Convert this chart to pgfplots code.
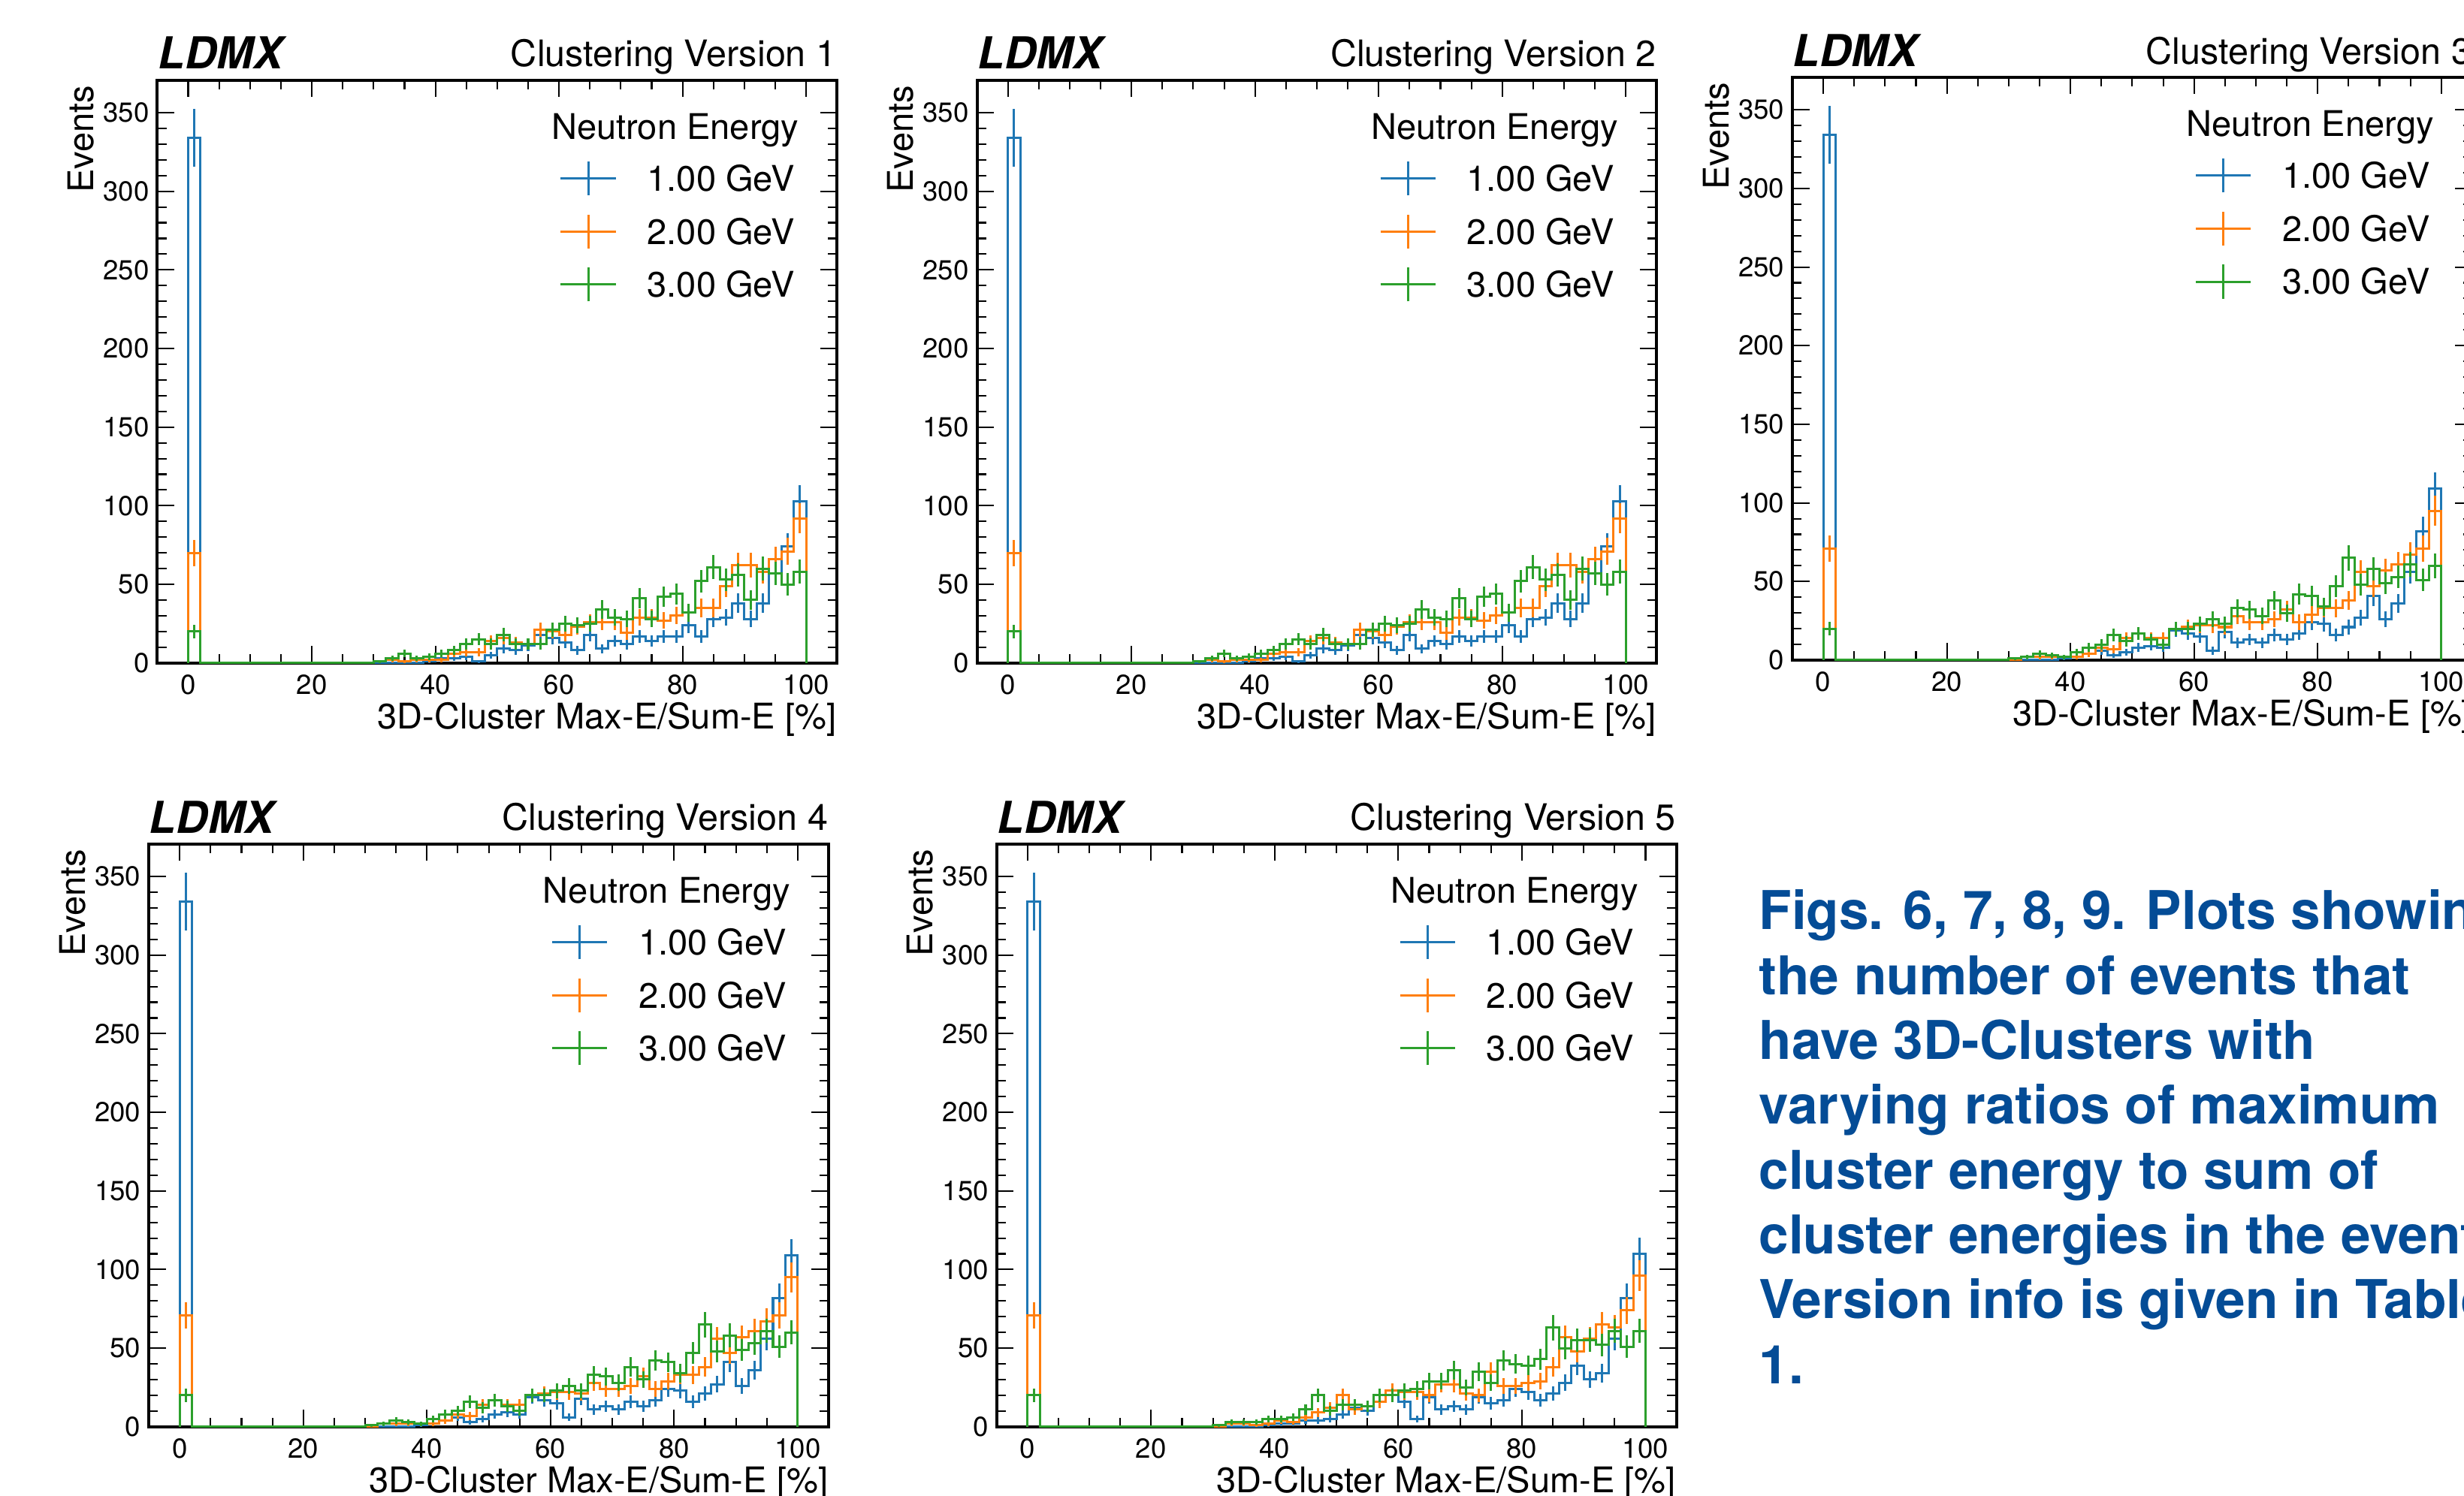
\documentclass[border=0pt]{standalone}
\usepackage{fontspec}
\setmainfont{TeX Gyre Heros}
\usepackage{pgfplots}
\pgfplotsset{compat=1.18}
\usepackage{pgfplotstable}
\definecolor{tabblue}{HTML}{1F77B4}
\definecolor{taborange}{HTML}{FF7F0E}
\definecolor{tabgreen}{HTML}{2CA02C}
\definecolor{capblue}{RGB}{4,76,150}
\newcommand\labfont{\fontsize{11.25}{13.5}\selectfont}
\newcommand\titfont{\fontsize{11.6}{13.9}\selectfont}
\newcommand\tickfont{\fontsize{8.75}{10}\selectfont}

% columns: x = left bin edge, xc = bin centre, a = 1 GeV, b = 2 GeV, c = 3 GeV
% first row and last two rows close the step outline
\pgfplotstableread{
x xc a b c
0 0 0 0 0
0 1 334 70 20
2 3 0 0 0
4 5 0 0 0
6 7 0 0 0
8 9 0 0 0
10 11 0 0 0
12 13 0 0 0
14 15 0 0 0
16 17 0 0 0
18 19 0 0 0
20 21 0 0 0
22 23 0 0 0
24 25 0 0 0
26 27 0 0 0
28 29 0 0 0
30 31 0 1 1
32 33 0 2 3
34 35 0 1 6
36 37 0 2 3
38 39 1 2 4
40 41 3 2 6
42 43 3 6 8
44 45 4 7 12
46 47 1 7 15
48 49 5 14 12
50 51 9 16 18
52 53 8 13 12
54 55 11 12 12
56 57 18 21 12
58 59 16 20 21
60 61 13 18 25
62 63 8 23 24
64 65 18 26 25
66 67 9 26 34
68 69 14 26 29
70 71 12 19 28
72 73 17 29 41
74 75 14 29 28
76 77 17 27 42
78 79 17 30 44
80 81 24 32 32
82 83 17 35 52
84 85 28 35 61
86 87 29 49 53
88 89 38 62 56
90 91 28 62 40
92 93 38 58 60
94 95 57 66 57
96 97 74 71 50
98 99 103 92 58
100 100 103 92 58
100 100 0 0 0
}\tA

\pgfplotstableread{
x xc a b c
0 0 0 0 0
0 1 334 71 20
2 3 0 0 0
4 5 0 0 0
6 7 0 0 0
8 9 0 0 0
10 11 0 0 0
12 13 0 0 0
14 15 0 0 0
16 17 0 0 0
18 19 0 0 0
20 21 0 0 0
22 23 0 0 0
24 25 0 0 0
26 27 0 0 0
28 29 0 0 0
30 31 0 0 1
32 33 0 2 2
34 35 0 2 4
36 37 0 2 3
38 39 1 2 2
40 41 2 2 5
42 43 4 4 8
44 45 6 8 10
46 47 3 7 16
48 49 5 14 12
50 51 8 17 17
52 53 9 14 13
54 55 8 14 10
56 57 19 20 20
58 59 17 21 20
60 61 15 22 23
62 63 6 22 26
64 65 18 21 23
66 67 11 28 33
68 69 13 24 32
70 71 11 24 28
72 73 16 26 38
74 75 13 32 30
76 77 17 24 42
78 79 24 29 41
80 81 23 33 34
82 83 16 33 47
84 85 21 38 65
86 87 27 56 48
88 89 41 47 58
90 91 26 57 49
92 93 36 61 53
94 95 56 67 61
96 97 82 71 51
98 99 109 95 60
100 100 109 95 60
100 100 0 0 0
}\tC

\pgfplotstableread{
x xc a b c
0 0 0 0 0
0 1 334 71 20
2 3 0 0 0
4 5 0 0 0
6 7 0 0 0
8 9 0 0 0
10 11 0 0 0
12 13 0 0 0
14 15 0 0 0
16 17 0 0 0
18 19 0 0 0
20 21 0 0 0
22 23 0 0 0
24 25 0 0 0
26 27 0 0 0
28 29 0 0 0
30 31 0 0 1
32 33 0 2 3
34 35 0 2 3
36 37 0 1 3
38 39 1 2 5
40 41 2 4 5
42 43 2 3 6
44 45 4 6 11
46 47 4 9 20
48 49 5 12 10
50 51 8 20 14
52 53 12 11 14
54 55 10 13 13
56 57 16 16 20
58 59 20 23 20
60 61 16 22 23
62 63 5 22 24
64 65 19 20 29
66 67 11 27 29
68 69 13 27 36
70 71 11 21 25
72 73 19 20 35
74 75 15 35 28
76 77 17 26 42
78 79 24 26 40
80 81 22 28 39
82 83 17 29 43
84 85 21 38 63
86 87 28 57 50
88 89 39 48 55
90 91 30 56 55
92 93 34 65 52
94 95 56 63 61
96 97 82 74 51
98 99 110 96 61
100 100 110 96 61
100 100 0 0 0
}\tE

\pgfplotsset{
  ldmx/.style={
    scale only axis, width=216.3pt, height=185.5pt,
    xmin=-5, xmax=105, ymin=0, ymax=370.7,
    xtick={0,20,40,60,80,100}, ytick={0,50,100,150,200,250,300,350},
    minor x tick num=3, minor y tick num=4,
    tick align=inside, xtick pos=both, ytick pos=both,
    xticklabel pos=lower, yticklabel pos=left,
    major tick length=5.4pt, minor tick length=2.9pt,
    every tick/.append style={black, line width=0.5pt},
    axis line style={line width=0.95pt},
    tick label style={font=\tickfont, inner sep=0pt},
    xticklabel style={yshift=-3.5pt},
    yticklabel style={xshift=-2.4pt},
    /pgf/number format/assume math mode=true,
    clip=false,
    legend style={at={(1,1)}, anchor=north east, xshift=-13.5pt, yshift=-25.55pt,
      draw=none, fill=none, inner sep=0pt, outer sep=0pt,
      row sep=5.35pt, column sep=9.65pt, font=\labfont,
      nodes={inner sep=0pt, text height=8.1pt, text depth=0pt}},
    legend cell align=left,
  },
  hist/.style={const plot, line width=0.72pt, forget plot, mark=none},
  errs/.style={draw=none, mark=none, forget plot,
    skip coords between index={0}{1}, skip coords between index={51}{53},
    error bars/.cd, y dir=both, y explicit, error mark=none,
    error bar style={line width=0.72pt, draw=#1}},
  legimg/.style={legend image code/.code={
    \draw[line width=0.72pt,##1] (0pt,0pt) -- (17.5pt,0pt);
    \draw[line width=0.72pt,##1] (8.75pt,-5.4pt) -- (8.75pt,5.4pt);}},
}

\newcommand\panel[4]{%
\begin{axis}[ldmx, at={(#1,#2)}, anchor=south west]
\addplot[hist, tabblue] table[x=x, y=a] {#3};
\addplot[errs=tabblue] table[x=xc, y=a, y error expr={sqrt(\thisrow{a})}] {#3};
\addplot[hist, taborange] table[x=x, y=b] {#3};
\addplot[errs=taborange] table[x=xc, y=b, y error expr={sqrt(\thisrow{b})}] {#3};
\addplot[hist, tabgreen] table[x=x, y=c] {#3};
\addplot[errs=tabgreen] table[x=xc, y=c, y error expr={sqrt(\thisrow{c})}] {#3};
\addlegendimage{legimg, tabblue}\addlegendentry{1.00 GeV}
\addlegendimage{legimg, taborange}\addlegendentry{2.00 GeV}
\addlegendimage{legimg, tabgreen}\addlegendentry{3.00 GeV}
\node[anchor=base east, inner sep=0pt, font=\labfont, xshift=-12pt, yshift=-18.9pt] at (rel axis cs:1,1) {Neutron Energy};
\node[anchor=base west, inner sep=0pt, font=\fontsize{14}{16}\selectfont\bfseries\itshape, yshift=3.5pt] at (rel axis cs:0,1) {LDMX};
\node[anchor=base east, inner sep=0pt, font=\titfont, yshift=4.25pt] at (rel axis cs:1,1) {Clustering Version #4};
\node[xshift=-20.3pt, yshift=-1.5pt, rotate=90, anchor=base east, inner sep=0pt, font=\labfont] at (rel axis cs:0,1) {Events};
\node[anchor=base east, inner sep=0pt, font=\labfont, yshift=-21pt] at (rel axis cs:1,0) {3D-Cluster Max-E/Sum-E [\%]};
\end{axis}}

\newcommand\capline[2]{\node[anchor=base west, inner sep=0pt, text=capblue,
  font=\fontsize{17}{20.6}\selectfont\bfseries] at (1119,{360.3-41.27*#1}) {#2};}

\begin{document}
\begin{tikzpicture}[x=0.5pt,y=0.5pt]
\useasboundingbox (0,0) rectangle (1568,952);
\clip (0,0) rectangle (1568,952);
\panel{50.05pt}{265pt}{\tA}{1}
\panel{310.85pt}{265pt}{\tA}{2}
\panel{570.3pt}{265.9pt}{\tC}{3}
\panel{47.35pt}{21.9pt}{\tC}{4}
\panel{317.1pt}{21.9pt}{\tE}{5}
\capline{0}{Figs. 6, 7, 8, 9. Plots showing}
\capline{1}{the number of events that}
\capline{2}{have 3D-Clusters with}
\capline{3}{varying ratios of maximum}
\capline{4}{cluster energy to sum of}
\capline{5}{cluster energies in the event.}
\capline{6}{Version info is given in Table}
\capline{7}{1.}
\end{tikzpicture}
\end{document}
